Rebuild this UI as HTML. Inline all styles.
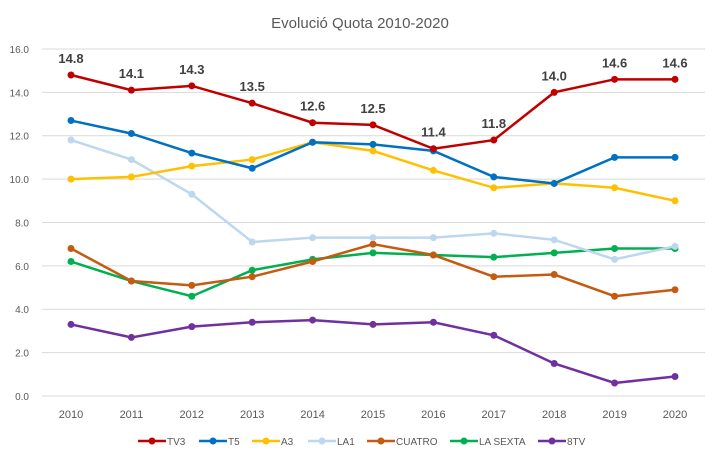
<!DOCTYPE html>
<html><head><meta charset="utf-8"><style>body{margin:0;background:#fff}svg{display:block;font-family:"Liberation Sans",sans-serif}</style></head>
<body><svg id="s" width="721" height="462" xmlns="http://www.w3.org/2000/svg"></svg>
<script>
const s=document.getElementById('s');let h='<rect width="721" height="462" fill="#fff"/>';
h+='<text x="360" y="28" font-size="15" fill="#595959" text-anchor="middle">Evolució Quota 2010-2020</text>';
const Y=v=>396-v*21.69,X=i=>71+i*60.4;
for(let v=0;v<=16;v+=2){const y=Y(v);h+=`<line x1="42" x2="705" y1="${y}" y2="${y}" stroke="#d9d9d9" stroke-width="1"/>`;h+=`<text x="29" y="${y+4}" font-size="10" fill="#595959" text-anchor="end">${v.toFixed(1)}</text>`;}
for(let i=0;i<11;i++)h+=`<text x="${X(i)}" y="418" font-size="11" fill="#595959" text-anchor="middle">${2010+i}</text>`;
const S=[["TV3","#c00000",[14.8,14.1,14.3,13.5,12.6,12.5,11.4,11.8,14.0,14.6,14.6]],
["T5","#0070c0",[12.7,12.1,11.2,10.5,11.7,11.6,11.3,10.1,9.8,11.0,11.0]],
["A3","#ffc000",[10.0,10.1,10.6,10.9,11.7,11.3,10.4,9.6,9.8,9.6,9.0]],
["LA1","#bdd7ee",[11.8,10.9,9.3,7.1,7.3,7.3,7.3,7.5,7.2,6.3,6.9]],
["CUATRO","#c55a11",[6.8,5.3,5.1,5.5,6.2,7.0,6.5,5.5,5.6,4.6,4.9]],
["LA SEXTA","#00b050",[6.2,5.3,4.6,5.8,6.3,6.6,6.5,6.4,6.6,6.8,6.8]],
["8TV","#7030a0",[3.3,2.7,3.2,3.4,3.5,3.3,3.4,2.8,1.5,0.6,0.9]]];
for(const[n,c,d]of S.slice().reverse()){h+=`<polyline fill="none" stroke="${c}" stroke-width="2.5" points="${d.map((v,i)=>X(i)+','+Y(v)).join(' ')}"/>`;d.forEach((v,i)=>h+=`<circle cx="${X(i)}" cy="${Y(v)}" r="3.5" fill="${c}"/>`);}
S[0][2].forEach((v,i)=>h+=`<text x="${X(i)}" y="${Y(v)-12}" font-size="13" font-weight="bold" fill="#404040" text-anchor="middle">${v.toFixed(1)}</text>`);
const L=[138,199,252,308,367,450,538];
S.forEach(([n,c],k)=>{const x=L[k];h+=`<line x1="${x}" x2="${x+28}" y1="441" y2="441" stroke="${c}" stroke-width="2.5"/><circle cx="${x+14}" cy="441" r="3.5" fill="${c}"/><text x="${x+29}" y="445" font-size="10" fill="#595959">${n}</text>`;});
s.innerHTML=h;
</script></body></html>
